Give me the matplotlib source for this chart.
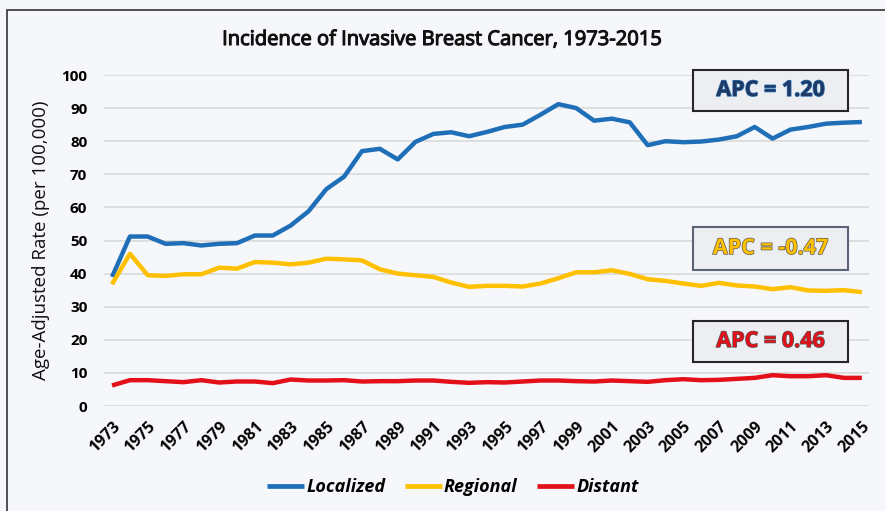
import numpy as np
import matplotlib.pyplot as plt
import matplotlib.patheffects as pe
import matplotlib.transforms as mtransforms
from matplotlib.patches import Rectangle

# Datos
years = list(range(1973, 2016))

localized = [39.0, 51.2, 51.2, 49.0, 49.2, 48.5, 49.0, 49.2, 51.5, 51.5,
             54.5, 58.8, 65.5, 69.3, 77.0, 77.7, 74.5, 79.8, 82.2, 82.7,
             81.5, 82.8, 84.3, 85.0, 88.0, 91.2, 90.0, 86.2, 86.8, 85.7,
             78.8, 80.0, 79.7, 79.9, 80.5, 81.5, 84.3, 80.8, 83.5, 84.3,
             85.3, 85.6, 85.8]

regional = [36.8, 46.0, 39.5, 39.3, 39.8, 39.8, 41.8, 41.5, 43.5, 43.3,
            42.8, 43.3, 44.5, 44.3, 44.0, 41.3, 40.0, 39.5, 39.0, 37.3,
            36.0, 36.3, 36.3, 36.1, 37.0, 38.6, 40.4, 40.4, 41.0, 39.9,
            38.3, 37.8, 37.0, 36.3, 37.2, 36.4, 36.1, 35.3, 35.9, 34.9,
            34.8, 35.0, 34.4]

distant = [6.2, 7.8, 7.8, 7.5, 7.2, 7.8, 7.1, 7.4, 7.4, 6.9,
           8.0, 7.7, 7.7, 7.8, 7.4, 7.5, 7.5, 7.7, 7.7, 7.3,
           7.0, 7.2, 7.1, 7.4, 7.7, 7.7, 7.5, 7.4, 7.7, 7.5,
           7.3, 7.8, 8.1, 7.8, 7.9, 8.2, 8.5, 9.3, 9.0, 9.0,
           9.3, 8.5, 8.5]

apc_labels = ['APC = 1.20', 'APC = -0.47', 'APC = 0.46']

blue = '#1F6FB8'
gold = '#FFC000'
red = '#E3101A'
bg = '#F6F7FA'

plt.rcParams['font.family'] = ['Open Sans', 'DejaVu Sans']

fig = plt.figure(figsize=(8.85, 5.11), dpi=100, facecolor=bg)
ax = fig.add_axes([104 / 885, 1 - 406 / 511, 765 / 885, 331 / 511])
ax.set_facecolor(bg)

ax.plot(years, localized, color=blue, lw=3.2, label='Localized', solid_capstyle='butt')
ax.plot(years, regional, color=gold, lw=3.2, label='Regional', solid_capstyle='butt')
ax.plot(years, distant, color=red, lw=3.2, label='Distant', solid_capstyle='butt')

ax.set_ylim(0, 100)
ax.set_xlim(1972.55, 2015.4)
ax.set_yticks(range(0, 101, 10))
ax.set_xticks(years[::2])
ax.set_xticklabels([str(y) for y in years[::2]], rotation=45, ha='right',
                   rotation_mode='anchor', fontsize=11.5, fontweight='bold')
# desplazar un poco a la derecha las etiquetas del eje x
shift = mtransforms.ScaledTranslation(5 / 100, 0, fig.dpi_scale_trans)
for t in ax.get_xticklabels():
    t.set_transform(t.get_transform() + shift)
for t in ax.get_yticklabels():
    t.set_fontweight('bold')
    t.set_fontsize(11)
ax.tick_params(length=0)
ax.tick_params(axis='x', pad=9)
ax.tick_params(axis='y', pad=12)
ax.grid(axis='y', color='#D9D9D9', lw=1.2)
ax.set_axisbelow(True)
for s in ax.spines.values():
    s.set_visible(False)

ax.set_ylabel('Age-Adjusted Rate (per 100,000)', fontsize=13.5, labelpad=8, color='#111111')

fig.text(442 / 885, 1 - 40 / 511, 'Incidence of Invasive Breast Cancer, 1973-2015',
         ha='center', va='center', fontsize=14.5, color='#111111',
         path_effects=[pe.withStroke(linewidth=0.8, foreground='#111111')])

# Cajas APC
boxes = [(70, 111, '#262626', '#1F3864', '#2E75B6'),
         (227, 270, '#5A6478', gold, '#595959'),
         (321, 362, '#262626', red, '#595959')]
for lab, (top, bot, edge, fill, stroke) in zip(apc_labels, boxes):
    x0, x1 = 693 / 885, 848 / 885
    y0, y1 = 1 - bot / 511, 1 - top / 511
    fig.patches.append(Rectangle((x0, y0), x1 - x0, y1 - y0, transform=fig.transFigure,
                                 facecolor='#EDEEF1', edgecolor=edge, lw=1.5, zorder=5))
    fig.text((x0 + x1) / 2, (y0 + y1) / 2, lab, ha='center', va='center',
             fontsize=15.5, fontweight='bold', color=fill, zorder=6,
             path_effects=[pe.withStroke(linewidth=1.0, foreground=stroke)])

leg = fig.legend(loc='center', bbox_to_anchor=(453 / 885, 1 - 487 / 511), ncol=3,
                 frameon=False, handlelength=2.05, handletextpad=0.1, columnspacing=1.1,
                 prop={'style': 'italic', 'weight': 'bold', 'size': 13})
for h in leg.get_lines():
    h.set_linewidth(3.4)

# Borde exterior
fig.patches.append(Rectangle((7 / 885, -0.05), 1.1, 1 - 10 / 511 + 0.05, transform=fig.transFigure,
                             facecolor='none', edgecolor='#333333', lw=1.2, zorder=10))

fig.savefig('out.png', dpi=100, facecolor=bg)
